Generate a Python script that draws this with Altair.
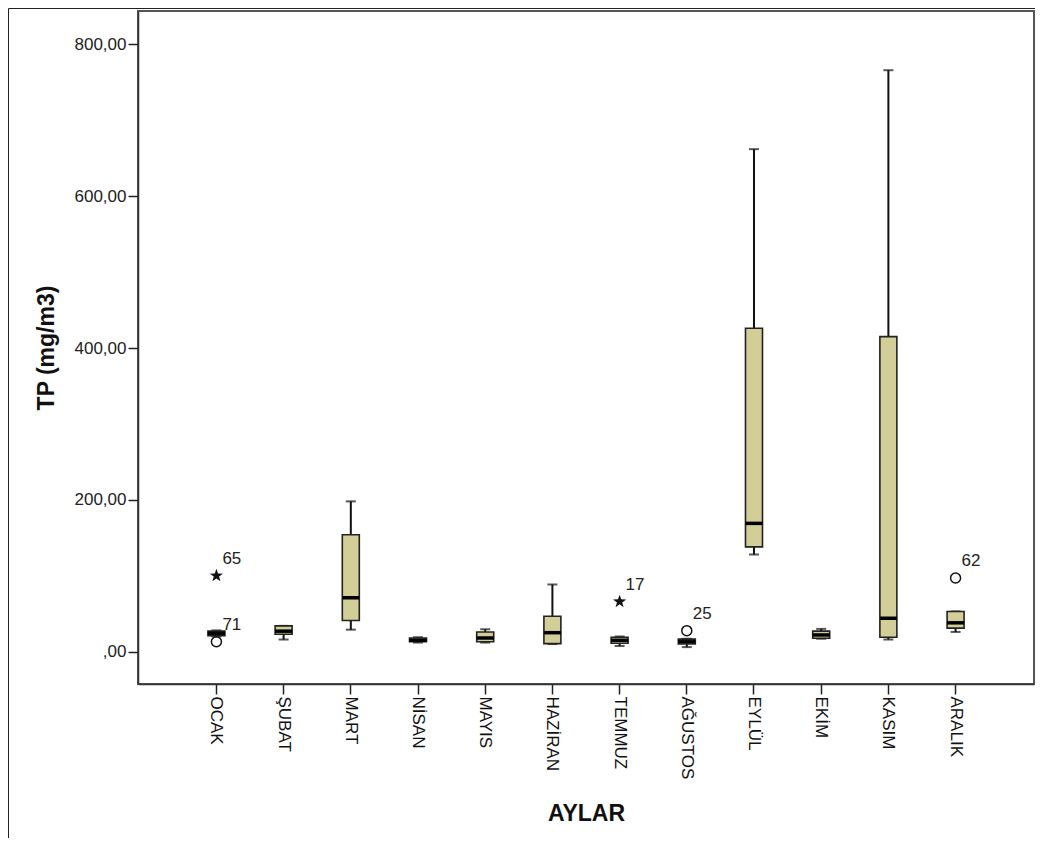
import altair as alt
import pandas as pd

months = ["OCAK", "ŞUBAT", "MART", "NİSAN", "MAYIS", "HAZİRAN",
          "TEMMUZ", "AĞUSTOS", "EYLÜL", "EKİM", "KASIM", "ARALIK"]
lo  = [20, 16, 29, 12, 12, 10, 7.5, 6, 128, 17, 16, 26]
q1  = [21, 23, 41, 13, 13, 10.6, 11, 10, 138, 17.6, 19, 31]
med = [24, 27, 71, 15, 18, 25, 15, 13, 169, 22, 44, 38]
q3  = [27, 34, 154, 18, 26, 46.6, 19, 16.5, 426, 27, 415, 53]
hi  = [28, 34, 198, 19, 29.5, 88.5, 20, 17, 662, 30, 766, 53]

out_month = ["OCAK", "OCAK", "TEMMUZ", "AĞUSTOS", "ARALIK"]
out_value = [100, 13, 66, 27.7, 97]
out_id = ["65", "71", "17", "25", "62"]
out_kind = ["star", "circle", "star", "circle", "circle"]

y_ticks = [0, 200, 400, 600, 800]

box = pd.DataFrame({"AYLAR": months, "lo": lo, "q1": q1, "med": med, "q3": q3, "hi": hi})
out = pd.DataFrame({"AYLAR": out_month, "v": out_value, "id": out_id, "kind": out_kind})

FONT = "Liberation Sans"
STAR = ("M0,-1L0.235,-0.324L0.951,-0.309L0.38,0.124L0.588,0.809L0,0.4"
        "L-0.588,0.809L-0.38,0.124L-0.951,-0.309L-0.235,-0.324Z")

xenc = alt.X("AYLAR:N", sort=months,
             scale=alt.Scale(type="band", paddingInner=0, paddingOuter=0.667),
             axis=alt.Axis(title="AYLAR", labelAngle=90, labelFontSize=17,
                           labelFont=FONT, labelColor="#111", labelPadding=2,
                           tickSize=10, tickColor="#222", tickWidth=1.5,
                           domainColor="#333", domainWidth=1.5,
                           titleFont=FONT, titleFontSize=23,
                           titleFontWeight="bold", titleColor="#111", titlePadding=24))

yscale = alt.Scale(domain=[-42.6, 844], nice=False, zero=False)
yaxis = alt.Axis(title="TP (mg/m3)", values=y_ticks, grid=False,
                 labelExpr="datum.value == 0 ? ',00' : replace(format(datum.value, '.2f'), '.', ',')",
                 labelFontSize=17, labelFont=FONT, labelColor="#222", labelPadding=2,
                 tickSize=10, tickColor="#222", tickWidth=1.5,
                 domainColor="#333", domainWidth=1.5,
                 titleFont=FONT, titleFontSize=23, titleFontWeight="bold",
                 titleColor="#111", titlePadding=16)

base = alt.Chart(box)

whisk = base.mark_rule(color="#111", strokeWidth=2).encode(
    x=xenc, y=alt.Y("lo:Q", scale=yscale, axis=yaxis), y2="hi:Q")
cap_lo = base.mark_tick(color="#111", size=10, thickness=2).encode(x=xenc, y=alt.Y("lo:Q", scale=yscale))
cap_hi = base.mark_tick(color="#111", size=10, thickness=2).encode(x=xenc, y=alt.Y("hi:Q", scale=yscale))
boxes = base.mark_bar(size=17, fill="#D3CE97", stroke="#222", strokeWidth=1.6).encode(
    x=xenc, y=alt.Y("q1:Q", scale=yscale), y2="q3:Q")
medians = base.mark_tick(color="#000", size=17, thickness=3.5, opacity=1).encode(
    x=xenc, y=alt.Y("med:Q", scale=yscale))

ochart = alt.Chart(out)
circles = ochart.transform_filter(alt.datum.kind == "circle").mark_point(
    shape="circle", filled=False, stroke="#111", strokeWidth=1.5, size=100, opacity=1).encode(
    x=xenc, y=alt.Y("v:Q", scale=yscale))
stars = ochart.transform_filter(alt.datum.kind == "star").mark_point(
    shape=STAR, filled=True, fill="#111", strokeWidth=0, size=190, opacity=1).encode(
    x=xenc, y=alt.Y("v:Q", scale=yscale))
labels = ochart.mark_text(align="left", baseline="middle", dx=6, dy=-17,
                          fontSize=17, font=FONT, color="#222").encode(
    x=xenc, y=alt.Y("v:Q", scale=yscale), text="id:N")

border_df = pd.DataFrame({"k": [0]})
left_line = alt.Chart(border_df).mark_rule(color="#222", strokeWidth=1).encode(
    x=alt.value(-129.5), y=alt.value(-2.5), y2=alt.value(827))
top_line = alt.Chart(border_df).mark_rule(color="#222", strokeWidth=1).encode(
    x=alt.value(-129.5), x2=alt.value(897), y=alt.value(-2.5))

chart = alt.layer(whisk, cap_lo, cap_hi, boxes, medians, circles, stars, labels,
                  left_line, top_line).properties(
    width=896, height=673,
    autosize=alt.AutoSizeParams(type="none"),
    padding={"left": 130, "top": 3, "right": 1, "bottom": 154},
    background="white",
).configure_view(stroke="#555", strokeWidth=2)

chart.save("out.html", embed_options={"renderer": "svg", "actions": False})
